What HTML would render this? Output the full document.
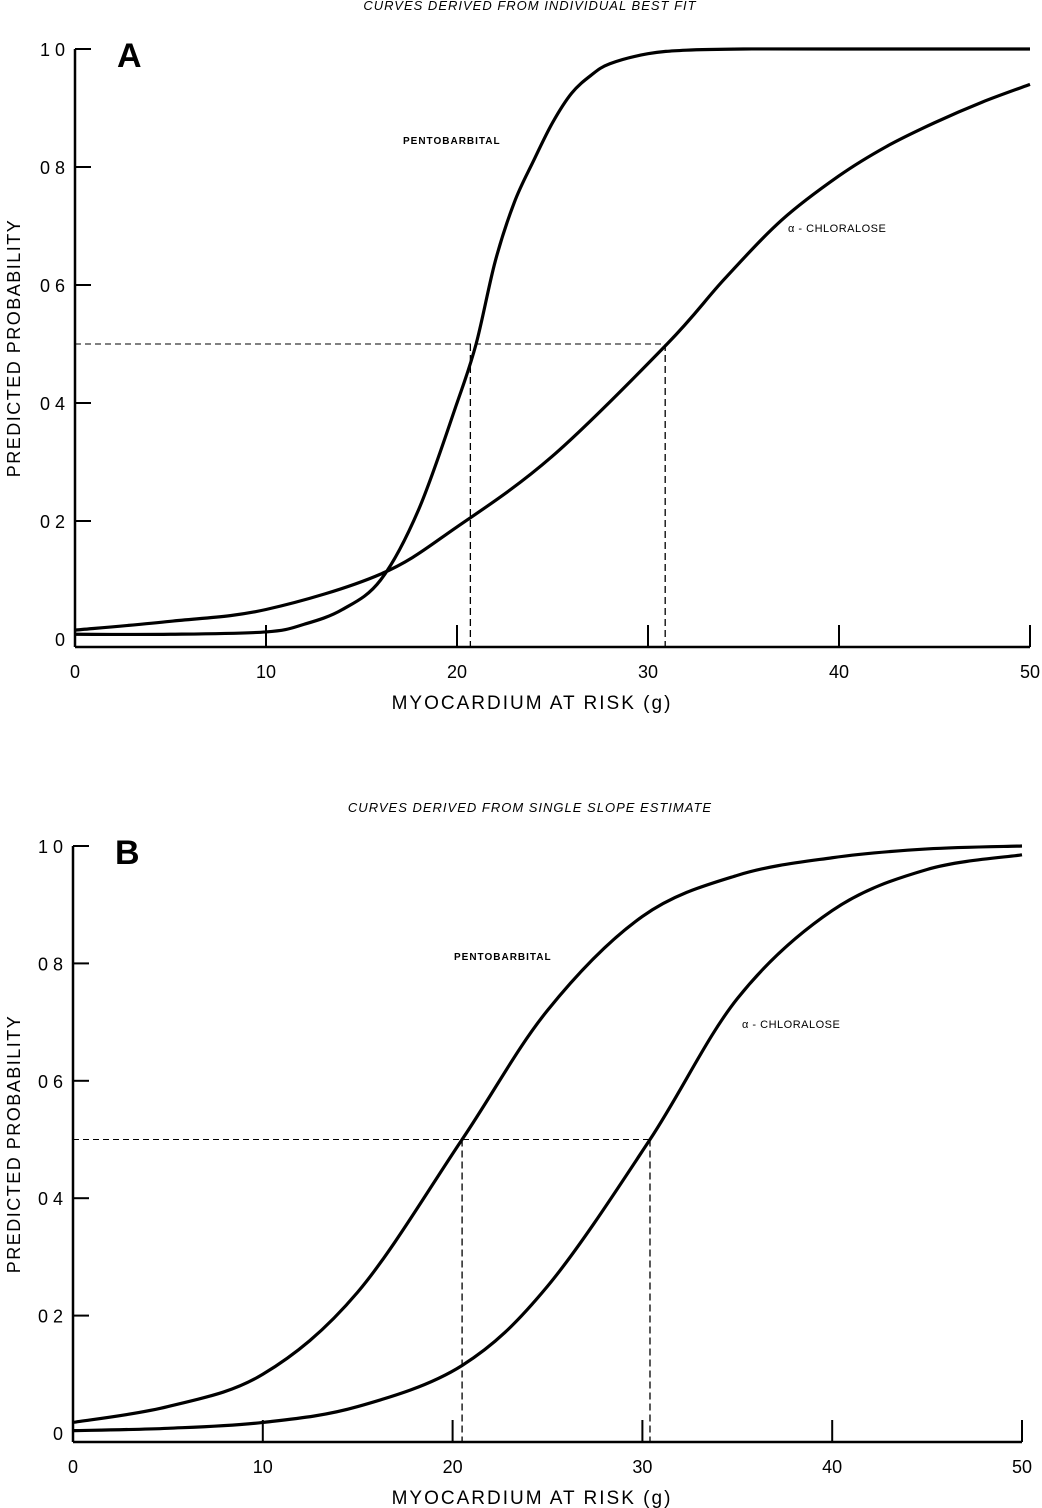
<!DOCTYPE html>
<html><head><meta charset="utf-8"><style>
html,body{margin:0;padding:0;background:#fff;}
svg{display:block;font-family:"Liberation Sans",sans-serif;}
</style></head><body>
<svg id="fig" width="1042" height="1508" viewBox="0 0 1042 1508"></svg>
<script>
const xTicks=[0,10,20,30,40,50];
const xTickLabels=["0","10","20","30","40","50"];
const yTicks=[0,0.2,0.4,0.6,0.8,1.0];
const yTickLabels=["0","0 2","0 4","0 6","0 8","1 0"];
const aPentoX=[0,5,10,12,14,16,18,20,21,22,23,24,25,26,27,28,30,32,35,40,50];
const aPentoY=[0.008,0.008,0.012,0.025,0.05,0.1,0.22,0.4,0.5,0.64,0.74,0.81,0.875,0.925,0.955,0.975,0.992,0.998,1.0,1.0,1.0];
const aChlorX=[0,5,10,16,20,25,31,34,37,40,42.5,45,47.5,50];
const aChlorY=[0.015,0.03,0.05,0.11,0.19,0.31,0.5,0.61,0.71,0.785,0.835,0.875,0.91,0.94];
const bPentoX=[0,5,10,15,20.5,25,30,35,40,45,50];
const bPentoY=[0.018,0.045,0.1,0.24,0.5,0.72,0.88,0.95,0.98,0.995,1.0];
const bChlorX=[0,5,10,15,20.5,25,30.4,35,40,45,50];
const bChlorY=[0.004,0.008,0.018,0.045,0.115,0.25,0.5,0.74,0.89,0.96,0.985];
const aRef=[20.7,30.9];
const bRef=[20.5,30.4];

const NS="http://www.w3.org/2000/svg";
const svg=document.getElementById('fig');
function mk(tag,attrs,parent){const e=document.createElementNS(NS,tag);for(const k in attrs)e.setAttribute(k,attrs[k]);(parent||svg).appendChild(e);return e;}
function txt(s,attrs,parent){const e=mk('text',attrs,parent);e.textContent=s;return e;}
function smooth(pts){let d=`M${pts[0][0]},${pts[0][1]}`;for(let i=0;i<pts.length-1;i++){const p0=pts[i-1]||pts[i],p1=pts[i],p2=pts[i+1],p3=pts[i+2]||p2;const c1x=p1[0]+(p2[0]-p0[0])/6,c1y=p1[1]+(p2[1]-p0[1])/6,c2x=p2[0]-(p3[0]-p1[0])/6,c2y=p2[1]-(p3[1]-p1[1])/6;d+=`C${c1x},${c1y} ${c2x},${c2y} ${p2[0]},${p2[1]}`;}return d;}

function panel(cfg){
  const g=mk('g',{});
  
  
  const sx=v=>cfg.x0+(v/50)*(cfg.x1-cfg.x0);
  const sy=v=>cfg.y0-v*(cfg.y0-cfg.y1);
  const t=txt(cfg.title,{x:530,y:cfg.titleY,'text-anchor':'middle','font-size':13,'font-style':'italic','letter-spacing':'1'},g);
  
  
  const L=txt(cfg.letter,{x:cfg.x0+42,y:cfg.y1+18,'font-size':34,'font-weight':'bold'},g);
  
  
  const ya=mk('line',{x1:cfg.x0,y1:cfg.y1,x2:cfg.x0,y2:cfg.axisY,stroke:'#000','stroke-width':2.5},g);
  
  
  const xa=mk('line',{x1:cfg.x0,y1:cfg.axisY,x2:cfg.x1,y2:cfg.axisY,stroke:'#000','stroke-width':2.5},g);
  
  
  yTicks.forEach((v,i)=>{
    const tk=mk('line',{x1:cfg.x0,y1:sy(v),x2:cfg.x0+(v===0?0:16),y2:sy(v),stroke:'#000','stroke-width':2},g);
    
    
    const tl=txt(yTickLabels[i],{x:cfg.x0-10,y:sy(v)+7,'text-anchor':'end','font-size':18},g);
    
    
  });
  xTicks.forEach((v,i)=>{
    if(v>0){const tk=mk('line',{x1:sx(v),y1:cfg.axisY,x2:sx(v),y2:cfg.axisY-22,stroke:'#000','stroke-width':2},g);
    
    }
    const tl=txt(xTickLabels[i],{x:sx(v),y:cfg.axisY+31,'text-anchor':'middle','font-size':18},g);
    
    
  });
  const xt=txt('MYOCARDIUM  AT  RISK  (g)',{x:532,y:cfg.axisY+62,'text-anchor':'middle','font-size':19,'letter-spacing':'2'},g);
  
  
  const ymid=(cfg.y1+cfg.axisY)/2;
  const yt=txt('PREDICTED PROBABILITY',{x:0,y:0,'text-anchor':'middle','font-size':18,'letter-spacing':'1.5',transform:`translate(20,${ymid}) rotate(-90)`},g);
  
  
  const h=mk('line',{x1:cfg.x0,y1:sy(0.5),x2:sx(cfg.ref[1]),y2:sy(0.5),stroke:'#000','stroke-width':1,'stroke-dasharray':'6,4'},g);
  
  
  cfg.ref.forEach(r=>{
    const v=mk('line',{x1:sx(r),y1:sy(0.5),x2:sx(r),y2:cfg.axisY,stroke:'#000','stroke-width':1.3,'stroke-dasharray':'7,4'},g);
    
    
  });
  const p1=mk('path',{d:smooth(cfg.px.map((x,i)=>[sx(x),sy(cfg.py[i])])),fill:'none',stroke:'#000','stroke-width':3.2},g);
  
  
  const p2=mk('path',{d:smooth(cfg.cx.map((x,i)=>[sx(x),sy(cfg.cy[i])])),fill:'none',stroke:'#000','stroke-width':3.2},g);
  
  
  const l1=txt('PENTOBARBITAL',{x:cfg.pl[0],y:cfg.pl[1],'font-size':10,'font-weight':'bold','letter-spacing':'1'},g);
  
  
  const l2=txt('α - CHLORALOSE',{x:cfg.cl[0],y:cfg.cl[1],'font-size':11,'letter-spacing':'0.5'},g);
  
  
}
panel({name:'panel-a',title:'CURVES DERIVED FROM INDIVIDUAL BEST FIT',titleY:10,letter:'A',x0:75,x1:1030,y0:639,y1:49,axisY:647,ref:aRef,px:aPentoX,py:aPentoY,cx:aChlorX,cy:aChlorY,pl:[403,144],cl:[788,232]});
panel({name:'panel-b',title:'CURVES DERIVED FROM SINGLE SLOPE ESTIMATE',titleY:812,letter:'B',x0:73,x1:1022,y0:1433,y1:846,axisY:1442,ref:bRef,px:bPentoX,py:bPentoY,cx:bChlorX,cy:bChlorY,pl:[454,960],cl:[742,1028]});
</script>
</body></html>
